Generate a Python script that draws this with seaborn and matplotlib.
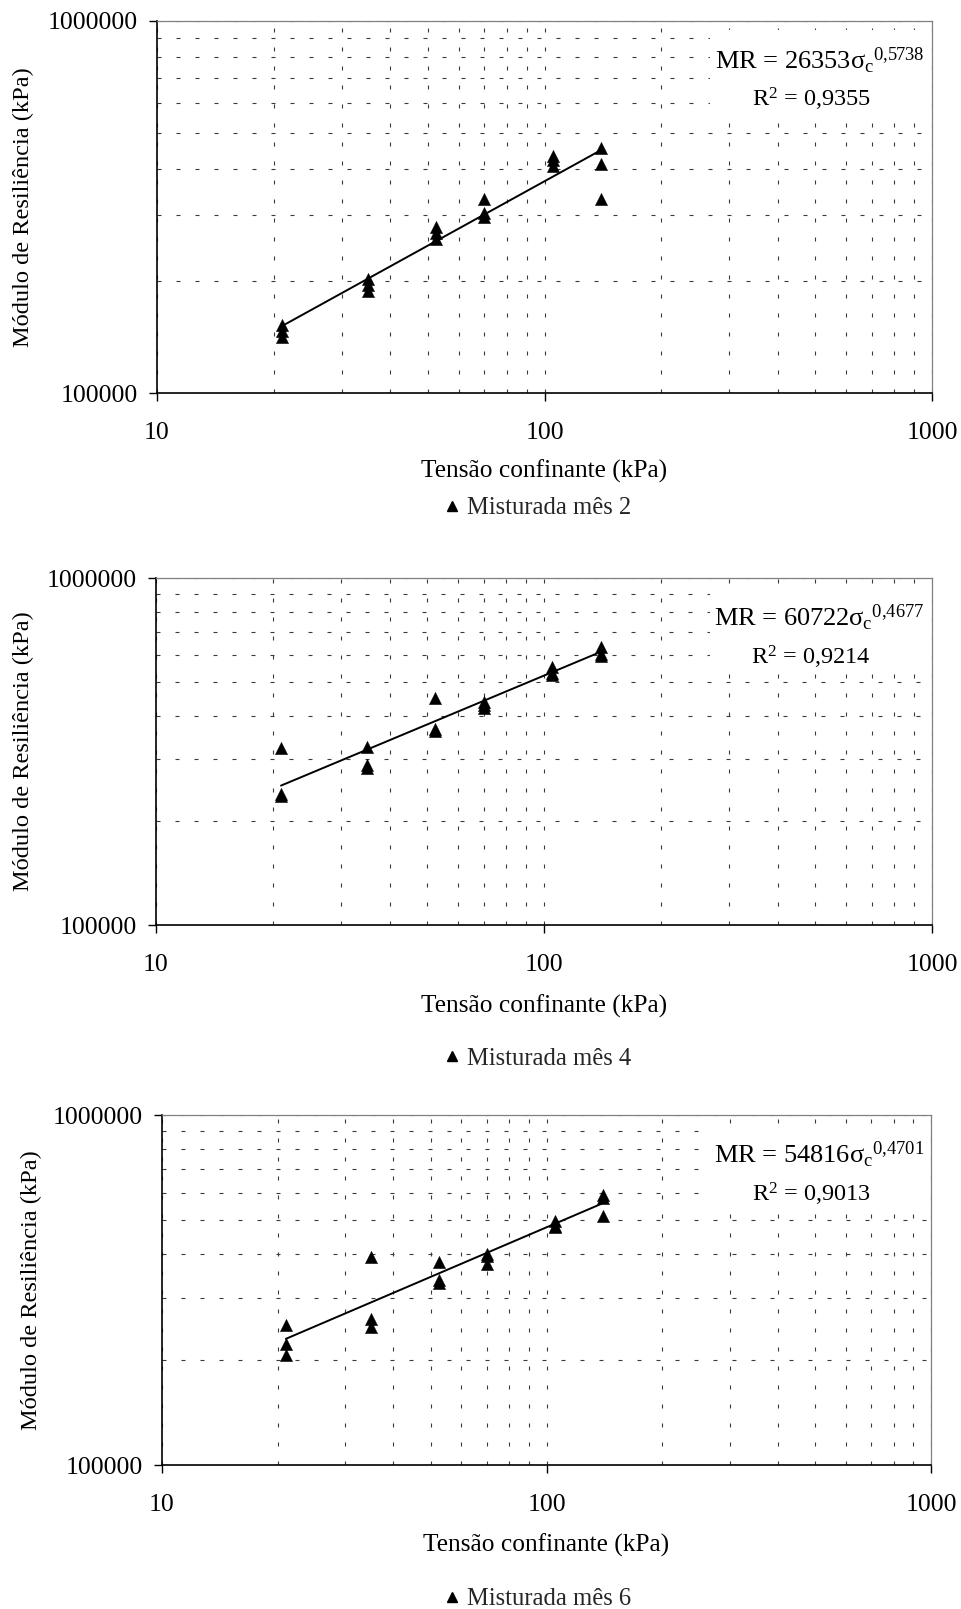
import numpy as np
import pandas as pd
import seaborn as sns
import matplotlib
matplotlib.use("Agg")
import matplotlib.pyplot as plt
from matplotlib.lines import Line2D
from matplotlib.patches import Rectangle
from matplotlib.ticker import FixedLocator, FixedFormatter, NullFormatter

# Confining stress levels (kPa); three deviator stress stages per level
sigma_levels = [21, 35, 52.5, 70, 105, 140]
reps_per_level = 3

# Resilient modulus (kPa) for each mixture age, ordered by confining level
mr_mes2 = [152600, 147100, 141200,
           202500, 195200, 187400,
           278800, 268700, 259000,
           331000, 305000, 297000,
           434000, 421000, 408000,
           455000, 412000, 331000]
mr_mes4 = [323000, 239000, 236000,
           326500, 289000, 283000,
           450000, 368000, 362000,
           440000, 430000, 421000,
           555000, 533000, 525000,
           631000, 604000, 596000]
mr_mes6 = [251000, 221000, 206000,
           392000, 261000, 248000,
           381000, 338000, 332000,
           400000, 395500, 375000,
           499000, 482000, 480000,
           591000, 578000, 514600]

# Power-law fits MR = k1 * sigma_c ^ k2 and their R^2
fit_k1 = [26353, 60722, 54816]
fit_k2 = [0.5738, 0.4677, 0.4701]
fit_r2 = ["0,9355", "0,9214", "0,9013"]
series_names = ["Misturada mês 2", "Misturada mês 4", "Misturada mês 6"]

x_ticks = [10, 100, 1000]
x_tick_labels = ["10", "100", "1000"]
y_ticks = [100000, 1000000]
y_tick_labels = ["100000", "1000000"]

sns.set_theme(style="white")
plt.rcParams["font.family"] = ["Liberation Serif", "DejaVu Serif"]
plt.rcParams["mathtext.fontset"] = "custom"
plt.rcParams["mathtext.rm"] = "Liberation Serif"
plt.rcParams["mathtext.it"] = "Liberation Serif:italic"
plt.rcParams["mathtext.bf"] = "Liberation Serif:bold"

W, H = 962, 1609
fig = plt.figure(figsize=(W / 100, H / 100), dpi=100)
FS_TICK = 18.5
FS_XLAB = 18.3
FS_YLAB = 17.6
FS_LEG = 17.7
FS_EQ = 19
FS_R2 = 17.5


def px_rect(l, t, r, b):
    return [l / W, 1 - b / H, (r - l) / W, (b - t) / H]


def comma_decimal(v):
    # decimal comma kept tight inside mathtext
    return ("%.4f" % v).replace(".", "{,}")


# axes boxes in pixels: left, top, right, bottom
boxes = [(157, 20.5, 932, 393), (156, 578, 932, 925), (162, 1115, 931, 1465)]
xlabel_y = [471, 1006, 1545]
legend_y = [508, 1059, 1599]
ylabel_x = [23, 23, 31]

minor_x = [20, 30, 40, 50, 60, 70, 80, 90, 200, 300, 400, 500, 600, 700, 800, 900]
minor_y = [v * 100000 for v in range(2, 10)]

grid_lw = 0.8
grid_ls = (0, (3.6, 13.5))

for i, mr in enumerate([mr_mes2, mr_mes4, mr_mes6]):
    l, t, r, b = boxes[i]
    ax = fig.add_axes(px_rect(l, t, r, b))
    df = pd.DataFrame({"sigma3": np.repeat(sigma_levels, reps_per_level), "MR": mr})

    ax.set_xscale("log")
    ax.set_yscale("log")
    ax.set_xlim(10, 1000)
    ax.set_ylim(1e5, 1e6)
    ax.set_axisbelow(True)

    # trend line from the fitted power law
    xs = np.array([min(sigma_levels), max(sigma_levels)])
    ys = fit_k1[i] * xs ** fit_k2[i]
    sns.lineplot(x=xs, y=ys, color="black", linewidth=1.4, ax=ax, zorder=3)

    sns.scatterplot(data=df, x="sigma3", y="MR", marker="^", s=78, color="black",
                    edgecolor="black", linewidth=0.3, ax=ax, zorder=4, legend=False)

    ax.xaxis.set_major_locator(FixedLocator(x_ticks))
    ax.xaxis.set_major_formatter(FixedFormatter(x_tick_labels))
    ax.xaxis.set_minor_locator(FixedLocator(minor_x))
    ax.xaxis.set_minor_formatter(NullFormatter())
    ax.yaxis.set_major_locator(FixedLocator(y_ticks))
    ax.yaxis.set_major_formatter(FixedFormatter(y_tick_labels))
    ax.yaxis.set_minor_locator(FixedLocator(minor_y))
    ax.yaxis.set_minor_formatter(NullFormatter())

    ax.tick_params(axis="both", which="major", direction="out", length=6, width=1,
                   color="black", labelsize=FS_TICK, labelcolor="black")
    ax.tick_params(axis="x", which="major", pad=14.8, bottom=True)
    ax.tick_params(axis="y", which="major", pad=8, left=True)
    ax.tick_params(which="minor", length=0)

    ax.grid(True, which="both", color="#3a3a3a", linewidth=grid_lw, linestyle=grid_ls)

    for side in ["left", "bottom"]:
        ax.spines[side].set_color("black")
        ax.spines[side].set_linewidth(1.2)
    for side in ["top", "right"]:
        ax.spines[side].set_color("#808080")
        ax.spines[side].set_linewidth(0.9)

    ax.set_xlabel("Tensão confinante (kPa)", fontsize=FS_XLAB, color="black")
    ax.xaxis.label.set_va("center")
    ax.xaxis.set_label_coords(0.5, -(xlabel_y[i] - b) / (b - t))
    ax.set_ylabel("Módulo de Resiliência (kPa)", fontsize=FS_YLAB, color="black")
    ax.yaxis.label.set_va("center")
    ax.yaxis.set_label_coords((ylabel_x[i] - l) / (r - l), 0.5)

    # equation block with white background
    ax.add_patch(Rectangle(((710 - 157) / 775, 1 - (114 - 20.5) / 372.5),
                           (929 - 710) / 775, (114 - 30) / 372.5,
                           transform=ax.transAxes, facecolor="white",
                           edgecolor="none", zorder=1))
    eq = "MR = %dσ$_{\\mathrm{c}}{}^{\\mathrm{%s}}$" % (fit_k1[i], comma_decimal(fit_k2[i]))
    ax.annotate(eq, xy=(0.855, 1), xycoords="axes fraction", xytext=(0, -29),
                textcoords="offset points", ha="center", va="center",
                fontsize=FS_EQ, color="black", zorder=5)
    ax.annotate("R$^{\\mathrm{2}}$ = %s" % fit_r2[i], xy=(0.844, 1),
                xycoords="axes fraction", xytext=(0, -57),
                textcoords="offset points", ha="center", va="center",
                fontsize=FS_R2, color="black", zorder=5)

    handle = Line2D([], [], marker="^", color="black", linestyle="", markersize=7)
    ax.legend(handles=[handle], labels=[series_names[i]], loc="center",
              bbox_to_anchor=(538 / W, 1 - legend_y[i] / H),
              bbox_transform=fig.transFigure, frameon=False, fontsize=FS_LEG,
              handlelength=0.6, handletextpad=0.3, borderpad=0, borderaxespad=0)

fig.savefig("out.png", dpi=100, facecolor="white")
